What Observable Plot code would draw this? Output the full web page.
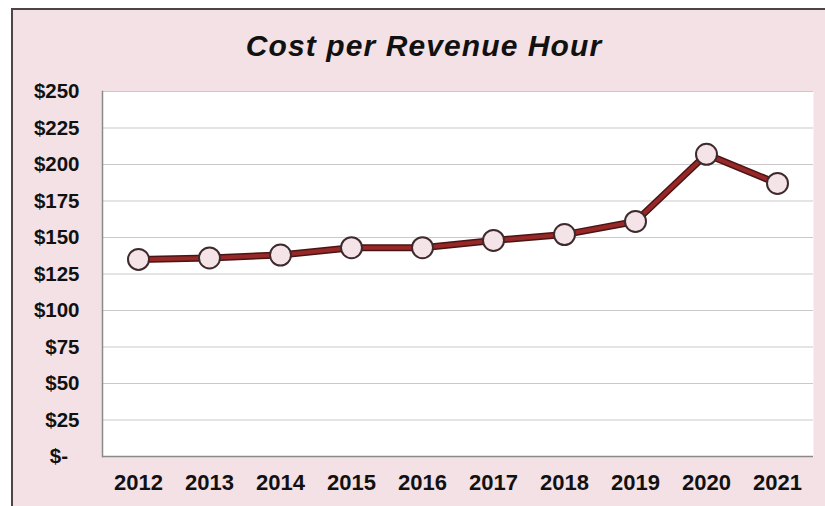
<!DOCTYPE html>
<html>
<head>
<meta charset="utf-8">
<script src="https://cdn.jsdelivr.net/npm/d3@7"></script>
<script src="https://cdn.jsdelivr.net/npm/@observablehq/plot@0.6"></script>
<style>
  html, body { margin: 0; padding: 0; background: #ffffff; overflow: hidden; width: 825px; height: 506px; }
  #frame {
    position: absolute; left: 11px; top: 8px; width: 830px; height: 510px;
    border: 2px solid #4e4446; background: #f3e1e6; box-sizing: border-box;
  }
  #title {
    height: 60px; box-sizing: border-box; padding-top: 21px; padding-right: 4px;
    text-align: center; font-family: "Liberation Sans", Arial, sans-serif;
    font-weight: bold; font-style: italic; font-size: 30px; letter-spacing: 1.1px; line-height: 1; color: #111;
  }
  #chart svg { display: block; }
</style>
</head>
<body>
<div id="frame">
  <div id="title">Cost per Revenue Hour</div>
  <div id="chart"></div>
</div>
<script>
const years = ["2012","2013","2014","2015","2016","2017","2018","2019","2020","2021"];
const costs = [135, 136, 138, 143, 143, 148, 152, 161, 207, 187];
const yTicks = [0, 25, 50, 75, 100, 125, 150, 175, 200, 225, 250];

const data = years.map((y, i) => ({year: y, cost: costs[i]}));
const fmt = v => v === 0 ? "$-\u2007" : "$" + v;

const chart = Plot.plot({
  width: 812,
  height: 436,
  marginLeft: 89,
  marginRight: 12,
  marginTop: 21,
  marginBottom: 50,
  style: {background: "transparent", fontFamily: "'Liberation Sans', Arial, sans-serif"},
  x: {type: "point", domain: years, padding: 0.5, label: null},
  y: {domain: [0, 250], label: null},
  marks: [
    Plot.frame({fill: "white", stroke: null}),
    Plot.ruleY(yTicks.filter(d => d > 0), {stroke: "#c9c9c9", strokeWidth: 1}),
    Plot.ruleY([0], {stroke: "#8a8a8a", strokeWidth: 1.5}),
    Plot.frame({anchor: "left", stroke: "#8a8a8a", strokeWidth: 1.5}),
    Plot.axisY({ticks: yTicks, tickFormat: fmt, tickSize: 0, tickPadding: 23,
      fontSize: 20.5, fontWeight: "bold", fill: "#111", label: null}),
    Plot.axisX({tickSize: 0, tickPadding: 18, fontSize: 22, fontWeight: "bold", fill: "#111", label: null}),
    Plot.line(data, {x: "year", y: "cost", stroke: "#4a1414", strokeWidth: 7}),
    Plot.line(data, {x: "year", y: "cost", stroke: "#982828", strokeWidth: 4}),
    Plot.dot(data, {x: "year", y: "cost", r: 10.5, fill: "#f4e4e8", stroke: "#3e2a2c", strokeWidth: 2})
  ]
});
document.getElementById("chart").appendChild(chart);
</script>
</body>
</html>
